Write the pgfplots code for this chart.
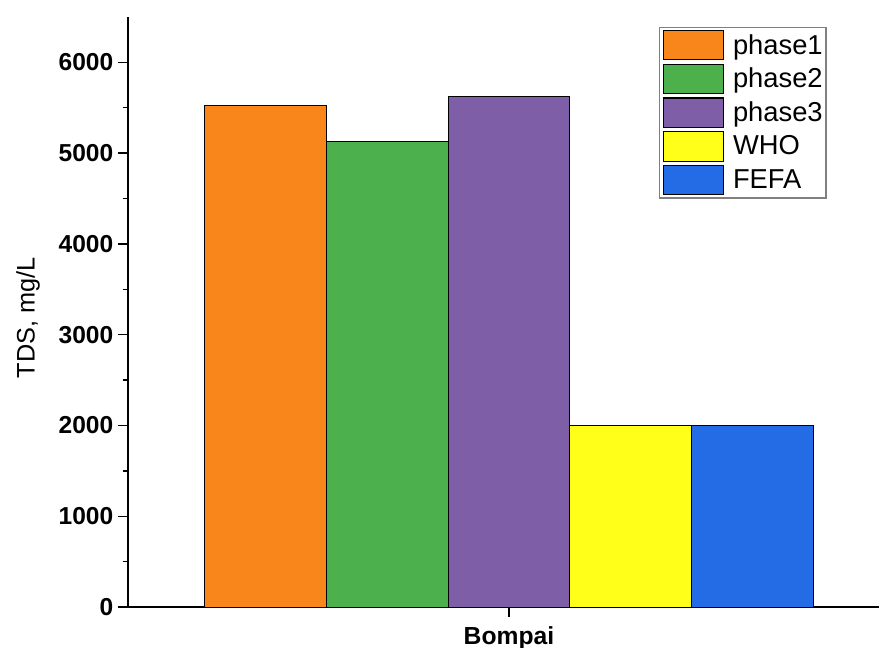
\documentclass[border=0pt]{standalone}
\usepackage{pgfplots}
\pgfplotsset{compat=1.18}
\usepackage{fontspec}
\setmainfont{Liberation Sans}
\definecolor{cA}{HTML}{F8861B}
\definecolor{cB}{HTML}{4CB04C}
\definecolor{cC}{HTML}{7F5EA8}
\definecolor{cD}{HTML}{FFFF1A}
\definecolor{cE}{HTML}{246CE6}
\begin{document}
\begin{tikzpicture}
\begin{axis}[
  scale only axis, width=582.37pt, height=442.5pt,
  xmin=0.3739, xmax=1.65, ymin=0, ymax=6500,
  axis x line=bottom, axis y line=left,
  axis line style={-, line width=1pt},
  ybar, bar width=0.2,
  xtick={1}, xticklabels={\textbf{Bompai}},
  ytick={0,1000,2000,3000,4000,5000,6000}, minor y tick num=1,
  tick style={black, line width=1pt}, tick align=outside,
  major tick length=7.5pt, minor tick length=4pt,
  /pgf/number format/assume math mode=true,
  /pgf/number format/1000 sep={},
  yticklabel style={font=\fontsize{18.4}{18.4}\selectfont\bfseries},
  xticklabel style={font=\fontsize{18.5}{18.5}\selectfont, yshift=-3.5pt},
  ylabel={TDS, mg/L},
  ylabel style={font=\fontsize{19}{19}\selectfont, at={(axis description cs:-0.1288,0.49)}, anchor=center},
  legend style={at={(axis cs:1.5219,6392)}, anchor=north east,
    draw=gray, line width=0.8pt, font=\fontsize{20.5}{20.5}\selectfont,
    inner sep=2pt, row sep=2.5pt, column sep=6.5pt,
    nodes={inner sep=0.5pt, anchor=west}},
  legend cell align=left,
  legend image code/.code={\draw[#1, draw=black, line width=0.8pt] (0pt,-11pt) rectangle (45pt,11pt);},
]
\addplot[fill=cA, draw=black, line width=0.6pt, bar shift=0pt] coordinates {(0.6,5530)};
\addplot[fill=cB, draw=black, line width=0.6pt, bar shift=0pt] coordinates {(0.8,5125)};
\addplot[fill=cC, draw=black, line width=0.6pt, bar shift=0pt] coordinates {(1.0,5620)};
\addplot[fill=cD, draw=black, line width=0.6pt, bar shift=0pt] coordinates {(1.2,2000)};
\addplot[fill=cE, draw=black, line width=0.6pt, bar shift=0pt] coordinates {(1.4,2000)};
\legend{phase1,phase2,phase3,WHO,FEFA}
\end{axis}
\pgfresetboundingbox
\path[use as bounding box] ([shift={(-96pt,-30.75pt)}]current axis.south west) rectangle ([shift={(-19.12pt,12.75pt)}]current axis.north east);
\end{tikzpicture}
\end{document}
